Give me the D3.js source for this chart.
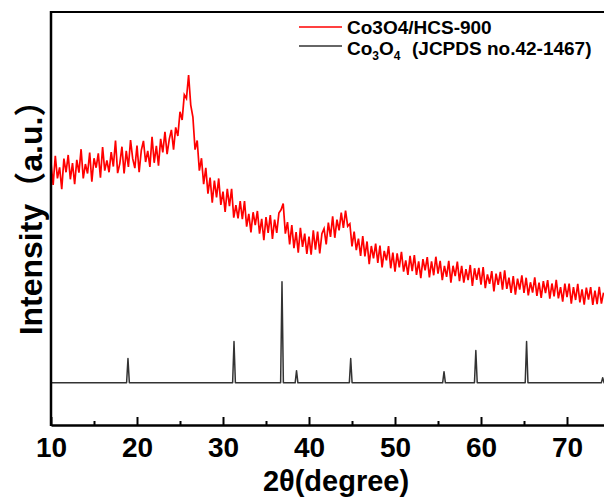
<html>

<head>
    <script src="https://d3js.org/d3.v7.min.js"></script>
    <style>
        body { margin: 0; background: white; }
        text { font-family: "Liberation Sans", Arial, "Noto Sans CJK SC", sans-serif; font-weight: bold; }
    </style>
</head>

<body>
    <svg id="xrd" width="604" height="498"></svg>
    <script>
        // measured pattern of the sample, 10 to 74.25 deg every 0.25 deg (intensity in a.u. x10)
        const sampleStart = 10;
        const sampleStep = 0.25;
        const sampleCounts = [
            633, 580, 651, 596, 623, 570, 644, 611,
            653, 594, 633, 582, 641, 610, 667, 596,
            631, 608, 659, 588, 645, 622, 657, 598,
            672, 615, 640, 611, 660, 625, 688, 609,
            632, 673, 608, 663, 624, 689, 644, 621,
            676, 611, 664, 687, 636, 663, 624, 697,
            634, 675, 627, 692, 659, 709, 655, 691,
            714, 666, 720, 699, 758, 738, 799, 790,
            847, 774, 745, 666, 688, 615, 645, 582,
            622, 559, 598, 537, 591, 550, 596, 532,
            564, 515, 571, 529, 571, 501, 531, 499,
            541, 497, 541, 479, 510, 465, 514, 483,
            517, 462, 498, 446, 502, 464, 507, 449,
            496, 464, 512, 520, 535, 462, 490, 436,
            483, 427, 466, 416, 476, 430, 462, 413,
            455, 411, 470, 423, 467, 414, 462, 474,
            436, 489, 454, 504, 452, 496, 470, 513,
            476, 518, 480, 486, 431, 467, 422, 450,
            408, 456, 407, 443, 388, 432, 402, 438,
            391, 433, 380, 420, 397, 432, 378, 416,
            370, 414, 380, 418, 370, 397, 362, 408,
            371, 410, 362, 395, 354, 400, 373, 405,
            356, 395, 361, 406, 365, 396, 349, 384,
            357, 396, 343, 384, 359, 394, 347, 384,
            343, 376, 349, 386, 335, 378, 350, 379,
            338, 381, 330, 363, 340, 371, 322, 365,
            338, 369, 326, 373, 328, 355, 318, 359,
            314, 353, 326, 361, 318, 355, 312, 344,
            319, 356, 311, 343, 306, 347, 318, 349,
            304, 341, 310, 350, 305, 332, 297, 341,
            308, 341, 292, 332, 301, 340, 295, 327,
            290, 331, 302, 332, 289, 324, 291, 333,
            292, 319
        ];

        // Co3O4 standard card JCPDS 42-1467
        const refPositions = [18.95, 31.28, 36.86, 38.55, 44.85, 55.7, 59.4, 65.3, 74.15];
        const refIntensity = [24, 41, 100, 12, 24, 11, 32, 41, 5];
        const refOffset = 100;   // stacked below the sample curve
        const refScale = 2.45;

        const majorTicks = [10, 20, 30, 40, 50, 60, 70];
        const minorTicks = [15, 25, 35, 45, 55, 65, 75];

        const svg = d3.select("#xrd");
        const x = d3.scaleLinear().domain([10, 75]).range([51, 610]);
        const y = d3.scaleLinear().domain([0, 1000]).range([424, 12]);

        const sample = sampleCounts.map((c, i) => [sampleStart + i * sampleStep, c]);

        // reference pattern as narrow sticks on a flat baseline
        const refPts = [[10, 0]];
        refPositions.forEach((p, i) => {
            refPts.push([p - 0.16, 0], [p, refIntensity[i]], [p + 0.16, 0]);
        });
        refPts.push([75, 0]);

        const line = d3.line().x(d => x(d[0])).y(d => y(d[1]));
        const refLine = d3.line().x(d => x(d[0])).y(d => y(refOffset + d[1] * refScale));

        svg.append("path").datum(refPts)
            .attr("d", refLine)
            .attr("fill", "none")
            .attr("stroke", "#333")
            .attr("stroke-width", 1.5)
            .attr("stroke-linejoin", "round");

        svg.append("path").datum(sample)
            .attr("d", line)
            .attr("fill", "none")
            .attr("stroke", "#ff0000")
            .attr("stroke-width", 1.7);

        // frame
        svg.append("line").attr("x1", 51).attr("x2", 604).attr("y1", 12).attr("y2", 12)
            .attr("stroke", "black").attr("stroke-width", 2);
        svg.append("line").attr("x1", 51).attr("x2", 51).attr("y1", 11).attr("y2", 426)
            .attr("stroke", "black").attr("stroke-width", 2.5);

        const xAxis = svg.append("g").attr("transform", "translate(0,425)")
            .call(d3.axisBottom(x).tickValues(majorTicks).tickSizeInner(-8).tickSizeOuter(0).tickPadding(12));
        xAxis.select(".domain").attr("stroke-width", 2.5);
        xAxis.selectAll(".tick line").attr("stroke-width", 2);
        xAxis.selectAll(".tick text").attr("font-size", 28).attr("font-family", null);

        const xMinor = svg.append("g").attr("transform", "translate(0,425)")
            .call(d3.axisBottom(x).tickValues(minorTicks).tickSizeInner(-4).tickSizeOuter(0).tickFormat(""));
        xMinor.select(".domain").remove();
        xMinor.selectAll(".tick line").attr("stroke-width", 2);

        svg.append("text")
            .attr("x", 336).attr("y", 491)
            .attr("text-anchor", "middle")
            .attr("font-size", 29)
            .text("2θ(degree)");

        svg.append("text")
            .attr("transform", "translate(42,210) rotate(-90)")
            .attr("text-anchor", "middle")
            .attr("font-size", 32)
            .text("Intensity（a.u.）");

        // legend
        const legend = svg.append("g");
        legend.append("line").attr("x1", 299).attr("x2", 342).attr("y1", 27).attr("y2", 27)
            .attr("stroke", "#ff0000").attr("stroke-width", 1.5);
        legend.append("text").attr("x", 347).attr("y", 34).attr("font-size", 19)
            .text("Co3O4/HCS-900");
        legend.append("line").attr("x1", 299).attr("x2", 342).attr("y1", 46).attr("y2", 46)
            .attr("stroke", "#333").attr("stroke-width", 1.5);
        const t2 = legend.append("text").attr("x", 347).attr("y", 55.3).attr("font-size", 19);
        t2.append("tspan").text("Co");
        t2.append("tspan").attr("font-size", 12).attr("dy", 5).text("3");
        t2.append("tspan").attr("dy", -5).text("O");
        t2.append("tspan").attr("font-size", 12).attr("dy", 5).text("4");
        t2.append("tspan").attr("x", 412).attr("dy", -5).text("(JCPDS no.42-1467)");
    </script>
</body>

</html>
